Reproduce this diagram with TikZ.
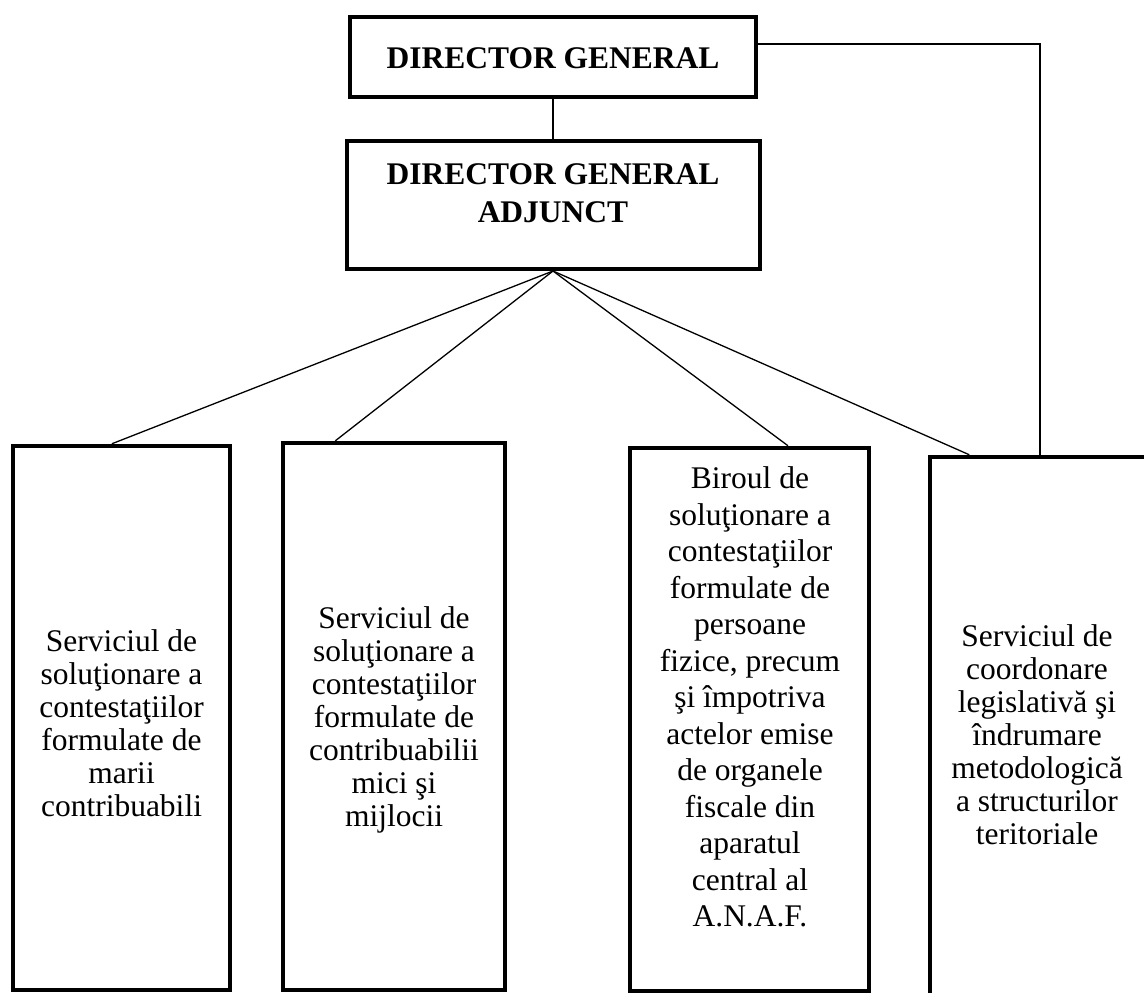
\documentclass[tikz,border=0pt]{standalone}
\usepackage{fontspec}
\setmainfont{Liberation Serif}
\usepackage{tikz}

\begin{document}
\begin{tikzpicture}[x=1pt,y=-1pt]
\tikzstyle{sef}=[draw=black, line width=4pt, inner sep=0pt]
\tikzstyle{serviciu}=[draw=black, line width=4.5pt, inner sep=0pt]
\tikzstyle{titlu}=[font=\bfseries\fontsize{31.5}{38}\selectfont, align=center]
\tikzstyle{scris}=[font=\fontsize{31.5}{33}\selectfont, align=center]

\clip (0,0) rectangle (1144,993);

\node (dg) at (553,57) [sef, minimum width=406, minimum height=80] {};
\node (dgt) at (553,58) [titlu] {DIRECTOR GENERAL};
\node (dga) at (553,205) [sef, minimum width=413, minimum height=128] {};
\node (dgat) at (553,193) [titlu] {DIRECTOR GENERAL\\ADJUNCT};

\node (s1) at (121.5,718) [serviciu, minimum width=217, minimum height=544] {};
\node (s2) at (394,716.5) [serviciu, minimum width=222, minimum height=547] {};
\node (s3) at (749.5,719.5) [serviciu, minimum width=239, minimum height=543] {};
\node (s4) at (1040,738.5) [serviciu, minimum width=220, minimum height=563] {};

\node (t1) at (121.5,723) [scris] {Serviciul de\\soluţionare a\\contestaţiilor\\formulate de\\marii\\contribuabili};
\node (t2) at (394,720) [scris] {Serviciul de\\soluţionare a\\contestaţiilor\\formulate de\\contribuabilii\\mici şi\\mijlocii};
\node (t3) at (750,697) [scris, font=\fontsize{31.5}{36.5}\selectfont] {Biroul de\\soluţionare a\\contestaţiilor\\formulate de\\persoane\\fizice, precum\\şi împotriva\\actelor emise\\de organele\\fiscale din\\aparatul\\central al\\A.N.A.F.};
\node (t4) at (1037,735) [scris] {Serviciul de\\coordonare\\legislativă şi\\îndrumare\\metodologică\\a structurilor\\teritoriale};

\draw[line width=1.3pt] (dg.south) -- (dga.north);
\draw[line width=1.3pt] (dga.south) -- (s1.92);
\draw[line width=1.3pt] (dga.south) -- (s2.102);
\draw[line width=1.3pt] (dga.south) -- (s3.82);
\draw[line width=1.3pt] (dga.south) -- (s4.104);
\draw[line width=1.3pt] ([yshift=13pt]dg.east) -| (s4.north);
\end{tikzpicture}
\end{document}
